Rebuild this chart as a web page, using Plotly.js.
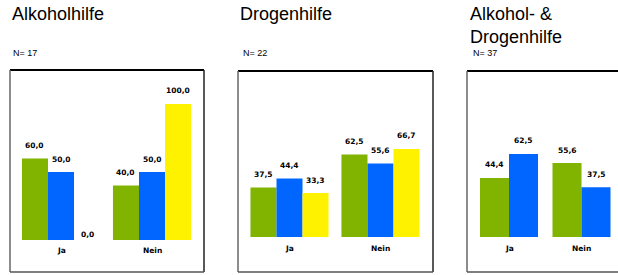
<!DOCTYPE html>
<html>
<head>
<meta charset="utf-8">
<script src="https://cdn.plot.ly/plotly-3.0.1.min.js"></script>
<style>html,body{margin:0;padding:0;background:#fff;}#chart{width:618px;height:275px;}</style>
</head>
<body>
<div id="chart"></div>
<script>
// ---- data ----
var categories = ['Ja', 'Nein'];
var panelTitles = ['Alkoholhilfe', 'Drogenhilfe', 'Alkohol- &<br>Drogenhilfe'];
var nLabels = ['N= 17', 'N= 22', 'N= 37'];
var alkGreen = [60.0, 40.0];
var alkBlue = [50.0, 50.0];
var alkYellow = [0.0, 100.0];
var drogGreen = [37.5, 62.5];
var drogBlue = [44.4, 55.6];
var drogYellow = [33.3, 66.7];
var kombiGreen = [44.4, 55.6];
var kombiBlue = [62.5, 37.5];

// ---- layout helpers ----
var W = 618, H = 275;
function px(x) { return x / W; }
function py(y) { return 1 - y / H; }
var GREEN = '#80b400', BLUE = '#0066ff', YELLOW = '#fff200';

var panels = [
  {series: [alkGreen, alkBlue, alkYellow], colors: [GREEN, BLUE, YELLOW],
   box: [10, 70, 204, 272], dom: [10, 204], base: 240, scale: 1.36, ja: 61, step: 91,
   width: 0.286, offsets: [-0.429, -0.143, 0.143], titleX: 10, titleY: 14, nX: 11, catShift: -10},
  {series: [drogGreen, drogBlue, drogYellow], colors: [GREEN, BLUE, YELLOW],
   box: [238, 71, 433, 272], dom: [238, 433], base: 237, scale: 1.32, ja: 289.5, step: 91,
   width: 0.286, offsets: [-0.429, -0.143, 0.143], titleX: 238, titleY: 14, nX: 241, catShift: -11},
  {series: [kombiGreen, kombiBlue], colors: [GREEN, BLUE],
   box: [467, 71, 626, 272], dom: [467, 618], base: 237, scale: 1.33, ja: 509, step: 72.5,
   width: 0.4, offsets: [-0.4, 0], titleX: 468, titleY: 25.5, nX: 471, catShift: -11}
];

var traces = [], annotations = [], shapes = [];
var layout = {
  width: W, height: H,
  margin: {l: 0, r: 0, t: 0, b: 0},
  paper_bgcolor: '#ffffff', plot_bgcolor: '#ffffff',
  showlegend: false,
  separators: ',.',
  barmode: 'overlay',
  font: {family: 'Liberation Sans, Arial, sans-serif', color: '#000'}
};

var valFont = {family: 'DejaVu Sans', size: 7.5, color: '#000', weight: 'bold'};

panels.forEach(function (p, i) {
  var sfx = i === 0 ? '' : String(i + 1);
  var xa = 'x' + sfx, ya = 'y' + sfx;
  var xLeft = -(p.ja - p.dom[0]) / p.step;
  var xRight = (p.dom[1] - p.ja) / p.step;
  layout['xaxis' + sfx] = {
    type: 'category', domain: [px(p.dom[0]), px(p.dom[1])], anchor: ya,
    range: [xLeft, xRight], visible: false, fixedrange: true
  };
  layout['yaxis' + sfx] = {
    domain: [py(p.box[3]), py(p.box[1])], anchor: xa,
    range: [-(p.box[3] - p.base) / p.scale, (p.base - p.box[1]) / p.scale],
    visible: false, fixedrange: true
  };
  p.series.forEach(function (vals, k) {
    traces.push({
      type: 'bar', x: categories, y: vals, xaxis: xa, yaxis: ya,
      marker: {color: p.colors[k], line: {width: 0}},
      width: p.width, offset: p.offsets[k], hoverinfo: 'skip'
    });
    vals.forEach(function (v, c) {
      annotations.push({
        xref: xa, yref: ya, x: c + p.offsets[k] + p.width / 2, y: v,
        text: v.toFixed(1).replace('.', ','), showarrow: false,
        xanchor: 'center', yanchor: 'middle', yshift: v > 0 ? 13 : 6,
        font: valFont
      });
    });
  });
  categories.forEach(function (cat, c) {
    annotations.push({
      xref: xa, yref: ya, x: c, y: 0, text: cat, showarrow: false,
      xanchor: 'center', yanchor: 'middle', yshift: p.catShift, font: valFont
    });
  });
  annotations.push({
    xref: 'paper', yref: 'paper', x: px(p.titleX), y: py(p.titleY),
    xanchor: 'left', yanchor: 'middle', align: 'left', showarrow: false,
    text: panelTitles[i], font: {family: 'Liberation Sans, Arial', size: 18, color: '#000'}
  });
  annotations.push({
    xref: 'paper', yref: 'paper', x: px(p.nX), y: py(53),
    xanchor: 'left', yanchor: 'middle', showarrow: false,
    text: nLabels[i], font: {family: 'Liberation Sans, Arial', size: 9, color: '#000'}
  });
  var b = p.box;
  shapes.push({type: 'line', xref: 'paper', yref: 'paper', x0: px(b[0]), x1: px(b[2]), y0: py(b[1]), y1: py(b[1]), line: {color: '#000', width: 2}});
  shapes.push({type: 'line', xref: 'paper', yref: 'paper', x0: px(b[2]), x1: px(b[2]), y0: py(b[1]), y1: py(b[3]), line: {color: '#222', width: 1.5}});
  shapes.push({type: 'line', xref: 'paper', yref: 'paper', x0: px(b[0]), x1: px(b[0]), y0: py(b[1]), y1: py(b[3]), line: {color: '#666', width: 1.5}});
  shapes.push({type: 'line', xref: 'paper', yref: 'paper', x0: px(b[0]), x1: px(b[2]), y0: py(b[3]), y1: py(b[3]), line: {color: '#555', width: 1.5}});
});

layout.annotations = annotations;
layout.shapes = shapes;

Plotly.newPlot('chart', traces, layout, {staticPlot: true, displayModeBar: false});
</script>
</body>
</html>
